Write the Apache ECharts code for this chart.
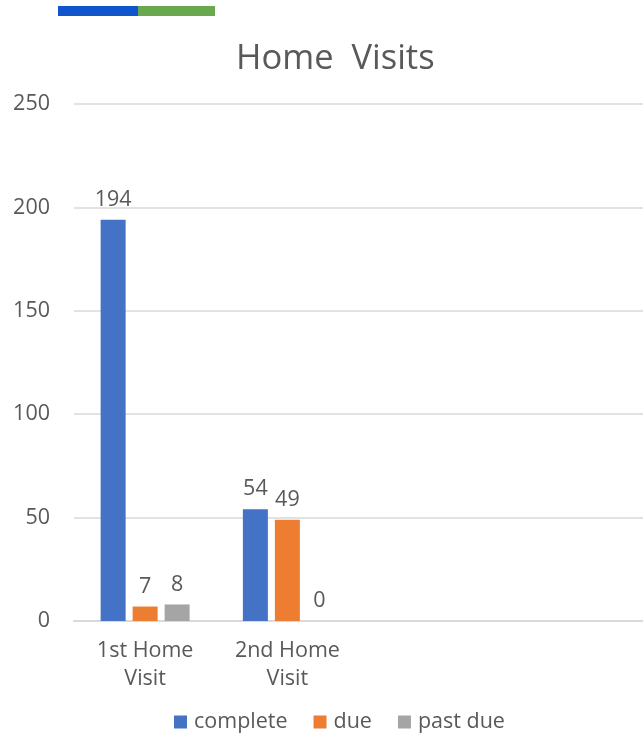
<!DOCTYPE html>
<html>
<head>
<meta charset="utf-8">
<script src="https://cdn.jsdelivr.net/npm/echarts@6/dist/echarts.min.js"></script>
<style>
  html, body { margin: 0; padding: 0; background: #fff; }
  #chart { width: 643px; height: 735px; }
</style>
</head>
<body>
<div id="chart"></div>
<script>
// chart data
var categories = ['1st Home\nVisit', '2nd Home\nVisit', '', '']
var complete = [194, 54, null, null]
var due = [7, 49, null, null]
var pastDue = [8, 0, null, null]
var yTicks = { min: 0, max: 250, interval: 50 }

var textColor = '#595959'
var fontFamily = '"Open Sans", "Noto Sans", sans-serif'

function barSeries(name, data, color) {
  return {
    name: name,
    type: 'bar',
    data: data,
    barWidth: 25,
    barGap: '28%',
    itemStyle: { color: color },
    label: {
      show: true,
      position: 'top',
      distance: 9,
      color: textColor,
      fontSize: 21.5,
      fontFamily: fontFamily
    }
  }
}

var chart = echarts.init(document.getElementById('chart'))
chart.setOption({
  animation: false,
  backgroundColor: '#fff',
  textStyle: { fontFamily: fontFamily },
  graphic: [
    { type: 'rect', shape: { x: 58, y: 6, width: 80, height: 10 }, style: { fill: '#1155CC' } },
    { type: 'rect', shape: { x: 138, y: 6, width: 77, height: 10 }, style: { fill: '#6AA84F' } }
  ],
  title: {
    text: 'Home  Visits',
    left: 236,
    top: 42,
    padding: 0,
    textStyle: { color: textColor, fontSize: 34.5, fontWeight: 'normal', fontFamily: fontFamily }
  },
  legend: {
    bottom: 2,
    left: 174,
    padding: 0,
    itemWidth: 13,
    itemHeight: 13,
    itemGap: 26,
    icon: 'rect',
    data: ['complete', 'due', 'past due'],
    textStyle: { color: textColor, fontSize: 21.5, fontFamily: fontFamily, padding: [0, 0, 0, 2] }
  },
  grid: { left: 74, right: 0, top: 104, bottom: 114 },
  xAxis: {
    type: 'category',
    data: categories,
    axisLine: { lineStyle: { color: '#d9d9d9', width: 2 } },
    axisTick: { show: false },
    axisLabel: {
      color: textColor,
      fontSize: 21.5,
      lineHeight: 28,
      margin: 16,
      interval: 0,
      fontFamily: fontFamily
    }
  },
  yAxis: {
    type: 'value',
    min: yTicks.min,
    max: yTicks.max,
    interval: yTicks.interval,
    axisLine: { show: false },
    axisTick: { show: false },
    splitLine: { lineStyle: { color: '#d9d9d9', width: 1.5 } },
    axisLabel: { color: textColor, fontSize: 21.5, margin: 24, fontFamily: fontFamily }
  },
  series: [
    barSeries('complete', complete, '#4472C4'),
    barSeries('due', due, '#ED7D31'),
    barSeries('past due', pastDue, '#A5A5A5')
  ]
})
</script>
</body>
</html>
